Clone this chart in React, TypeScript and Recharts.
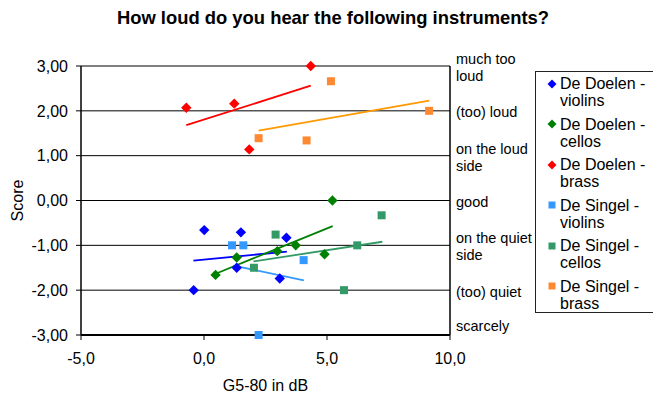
import React from "react";
import {
  ScatterChart,
  Scatter,
  XAxis,
  YAxis,
  CartesianGrid,
  Legend,
} from "recharts";

const FONT = '"Liberation Sans", Arial, Helvetica, sans-serif';

// measured points (G5-80 in dB, score)
const doelenViolins = [
  { x: 0.01, y: -0.66 },
  { x: 1.5, y: -0.71 },
  { x: 3.35, y: -0.83 },
  { x: 1.33, y: -1.5 },
  { x: 3.08, y: -1.74 },
  { x: -0.42, y: -2.0 },
];
const doelenCellos = [
  { x: 5.22, y: 0.0 },
  { x: 3.73, y: -1.0 },
  { x: 2.98, y: -1.13 },
  { x: 4.9, y: -1.2 },
  { x: 1.33, y: -1.27 },
  { x: 0.47, y: -1.66 },
];
const doelenBrass = [
  { x: 4.34, y: 3.0 },
  { x: 1.23, y: 2.16 },
  { x: -0.72, y: 2.07 },
  { x: 1.84, y: 1.14 },
];
const singelViolins = [
  { x: 1.14, y: -1.0 },
  { x: 1.6, y: -1.0 },
  { x: 4.05, y: -1.33 },
  { x: 2.22, y: -3.0 },
];
const singelCellos = [
  { x: 7.22, y: -0.33 },
  { x: 2.91, y: -0.76 },
  { x: 6.23, y: -1.0 },
  { x: 2.03, y: -1.5 },
  { x: 5.69, y: -2.0 },
];
const singelBrass = [
  { x: 5.16, y: 2.66 },
  { x: 9.15, y: 2.0 },
  { x: 2.22, y: 1.39 },
  { x: 4.17, y: 1.34 },
];

// trend line end points as drawn in the picture
const doelenViolinsTrend = [
  { x: -0.43, y: -1.34 },
  { x: 3.37, y: -1.14 },
];
const doelenCellosTrend = [
  { x: 0.45, y: -1.64 },
  { x: 5.23, y: -0.57 },
];
const doelenBrassTrend = [
  { x: -0.72, y: 1.68 },
  { x: 4.34, y: 2.56 },
];
const singelViolinsTrend = [
  { x: 1.19, y: -1.45 },
  { x: 4.06, y: -1.78 },
];
const singelCellosTrend = [
  { x: 2.01, y: -1.36 },
  { x: 7.25, y: -0.92 },
];
const singelBrassTrend = [
  { x: 2.22, y: 1.56 },
  { x: 9.16, y: 2.23 },
];

const xTicks = [-5, 0, 5, 10];
const yTicks = [-3, -2, -1, 0, 1, 2, 3];
const scaleLabels = [
  "scarcely",
  "(too) quiet",
  "on the quiet\nside",
  "good",
  "on the loud\nside",
  "(too) loud",
  "much too\nloud",
];

const series = [
  { name: "De Doelen - violins", data: doelenViolins, trend: doelenViolinsTrend, color: "#0000FF", line: "#0000FF", marker: "diamond" },
  { name: "De Doelen - cellos", data: doelenCellos, trend: doelenCellosTrend, color: "#008000", line: "#008000", marker: "diamond" },
  { name: "De Doelen - brass", data: doelenBrass, trend: doelenBrassTrend, color: "#FF0000", line: "#FF0000", marker: "diamond" },
  { name: "De Singel - violins", data: singelViolins, trend: singelViolinsTrend, color: "#3399FF", line: "#3399FF", marker: "square" },
  { name: "De Singel - cellos", data: singelCellos, trend: singelCellosTrend, color: "#339966", line: "#339966", marker: "square" },
  { name: "De Singel - brass", data: singelBrass, trend: singelBrassTrend, color: "#FF8833", line: "#FF9900", marker: "square" },
];

const fmtComma = (v: number, d: number) => v.toFixed(d).replace(".", ",");

const makeShape = (marker: string, color: string) => (props: any) => {
  const { cx, cy } = props;
  if (cx == null || cy == null) return null;
  if (marker === "diamond") {
    const r = 5.2;
    return (
      <polygon
        points={`${cx},${cy - r} ${cx + r},${cy} ${cx},${cy + r} ${cx - r},${cy}`}
        fill={color}
      />
    );
  }
  return <rect x={cx - 4} y={cy - 4} width={8} height={8} fill={color} />;
};

const RightTick = (props: any) => {
  const { x, y, payload } = props;
  const label = scaleLabels[yTicks.indexOf(payload.value)] ?? "";
  const lines = label.split("\n");
  const lh = 16.7;
  const shift = payload.value === -3 ? -11 : 0;
  const base = y + 6.5 + shift - ((lines.length - 1) * lh) / 2;
  return (
    <text x={x} y={base} fontSize={14.5} fontFamily={FONT} fill="#000" textAnchor="start">
      {lines.map((t: string, i: number) => (
        <tspan key={i} x={x} y={base + i * lh}>
          {t}
        </tspan>
      ))}
    </text>
  );
};

const LegendBox = () => (
  <div
    style={{
      width: 130,
      height: 242,
      border: "1px solid #222",
      borderRight: "none",
      background: "#fff",
      boxSizing: "border-box",
      paddingTop: 3,
      fontFamily: FONT,
      fontSize: 16,
      lineHeight: "17px",
      color: "#000",
    }}
  >
    {series.map((s) => {
      const [a, b] = s.name.split(" - ");
      return (
        <div key={s.name} style={{ position: "relative", height: 40.5 }}>
          <svg width={10} height={10} style={{ position: "absolute", left: 11, top: 3.5 }}>
            {s.marker === "diamond" ? (
              <polygon points="5,0.5 9.5,5 5,9.5 0.5,5" fill={s.color} />
            ) : (
              <rect x={1.5} y={1.5} width={7} height={7} fill={s.color} />
            )}
          </svg>
          <div style={{ position: "absolute", left: 24, top: 0, whiteSpace: "nowrap" }}>
            {a} -
            <br />
            {b}
          </div>
        </div>
      );
    })}
  </div>
);

export default function App() {
  return (
    <div
      style={{
        position: "absolute",
        left: 0,
        top: 0,
        width: 653,
        height: 397,
        overflow: "hidden",
        background: "#fff",
        fontFamily: FONT,
      }}
    >
      <div
        style={{
          position: "absolute",
          left: 333,
          top: 8,
          transform: "translateX(-50%)",
          whiteSpace: "nowrap",
          fontSize: 18.4,
          fontWeight: "bold",
          lineHeight: "20px",
          zIndex: 2,
        }}
      >
        How loud do you hear the following instruments?
      </div>
      <ScatterChart
        width={653}
        height={397}
        margin={{ top: 66, right: 123, bottom: 0, left: 5 }}
      >
        <CartesianGrid
          yAxisId="left"
          horizontal
          vertical={false}
          stroke="#000"
          strokeWidth={1}
          fill="#fff"
        />
        <XAxis
          type="number"
          dataKey="x"
          domain={[-5, 10]}
          ticks={xTicks}
          height={62}
          tickFormatter={(v: number) => fmtComma(v, 1)}
          tick={{ fill: "#000", fontSize: 16, fontFamily: FONT }}
          axisLine={{ stroke: "#000", strokeWidth: 2 }}
          tickLine={{ stroke: "#000" }}
          tickSize={5}
          tickMargin={13}
          label={{
            value: "G5-80 in dB",
            position: "insideBottom",
            offset: 6,
            style: { fill: "#000", fontSize: 16, fontFamily: FONT },
          }}
        />
        <YAxis
          yAxisId="left"
          type="number"
          dataKey="y"
          domain={[-3, 3]}
          ticks={yTicks}
          width={76}
          tickFormatter={(v: number) => fmtComma(v, 2)}
          tick={{ fill: "#000", fontSize: 16, fontFamily: FONT }}
          axisLine={{ stroke: "#000", strokeWidth: 1.5 }}
          tickLine={{ stroke: "#000" }}
          tickSize={5}
          tickMargin={8}
          label={{
            value: "Score",
            angle: -90,
            position: "insideLeft",
            offset: 12,
            style: { fill: "#000", fontSize: 16, fontFamily: FONT, textAnchor: "middle" },
          }}
        />
        <YAxis
          yAxisId="right"
          orientation="right"
          type="number"
          dataKey="y"
          domain={[-3, 3]}
          ticks={yTicks}
          width={80}
          axisLine={{ stroke: "#000", strokeWidth: 1.5 }}
          tickLine={false}
          tickSize={0}
          tickMargin={6}
          tick={<RightTick />}
        />
        <Legend
          layout="vertical"
          align="center"
          verticalAlign="middle"
          wrapperStyle={{ left: 535, top: 71, width: 130 }}
          content={() => <LegendBox />}
        />

        {series.map((s) => (
          <Scatter
            key={s.name + "-trend"}
            name={s.name + " trend"}
            yAxisId="right"
            data={s.trend}
            line={{ stroke: s.line, strokeWidth: 1.8 }}
            shape={() => null}
            legendType="none"
            isAnimationActive={false}
          />
        ))}
        {series.map((s) => (
          <Scatter
            key={s.name}
            name={s.name}
            yAxisId="left"
            data={s.data}
            fill={s.color}
            shape={makeShape(s.marker, s.color)}
            isAnimationActive={false}
          />
        ))}
      </ScatterChart>
    </div>
  );
}
